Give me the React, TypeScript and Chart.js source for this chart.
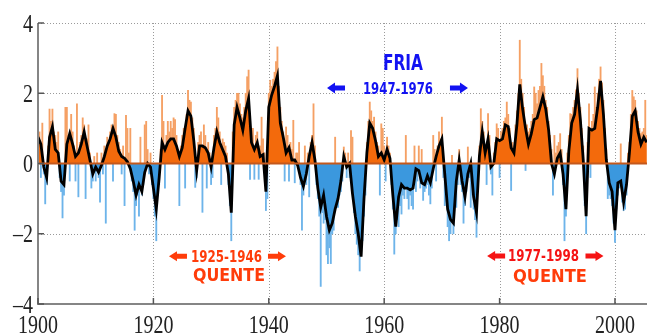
import { useEffect, useRef } from "react";
import { Chart, registerables } from "chart.js";

Chart.register(...registerables);

// ---- data ----
const START_YEAR = 1900;
const LINE_STEP = 0.5; // smoothed index, every half year
const SPIKE_STEP = 0.25; // monthly extremes, one per quarter

const smoothIndex = [
  0.75, 0.55, -0.1, -0.4, 0.75, 1.05, 0.4, 0.3, -0.5, -0.6,
  0.55, 0.85, 0.55, 0.2, 0.3, 0.55, 0.9, 0.5, 0.1, -0.3,
  -0.1, -0.25, -0.05, 0.2, 0.5, 0.7, 1.0, 0.75, 0.35, 0.2,
  0.15, 0.05, -0.15, -0.5, -0.9, -0.6, -0.8, -0.25, 0.0, -0.1,
  -0.7, -1.3, -0.4, 0.6, 0.4, 0.6, 0.7, 0.7, 0.5, 0.2,
  0.45, 1.0, 1.5, 1.35, 0.65, -0.2, 0.5, 0.5, 0.45, 0.3,
  -0.1, 0.45, 0.9, 0.6, 0.4, 0.2, -0.3, -1.4, 1.1, 1.6,
  1.3, 0.95, 1.5, 1.85, 0.6, 0.4, 0.6, 0.2, 0.25, -0.8,
  1.6, 1.95, 2.2, 2.5, 1.15, 0.75, 0.3, 0.45, 0.1, 0.1,
  -0.05, -0.4, -0.65, -0.3, 0.2, 0.6, 0.1, -0.7, -1.25, -0.9,
  -1.5, -1.9, -1.7, -1.3, -1.0, -0.5, 0.2, -0.1, 0.0, -0.85,
  -1.5, -2.0, -2.65, -1.0, 0.3, 1.15, 1.0, 0.65, 0.2, 0.3,
  0.1, 0.4, 0.15, -0.9, -1.8, -0.95, -0.6, -0.7, -0.7, -0.75,
  -0.7, -0.15, -0.2, -0.55, -0.6, -0.35, -0.55, -0.15, 0.2, 0.5,
  0.7, -0.3, -1.3, -1.6, -1.7, -0.5, 0.1, -0.5, -0.95, -0.3,
  0.0, -0.95, -1.4, 0.2, 0.9, 0.3, 0.7, -0.1, 0.0, 0.7,
  0.65, 0.7, 1.1, 1.05, 0.45, 0.3, 1.1, 2.25, 1.55, 1.0,
  0.55, 0.85, 1.25, 1.3, 1.6, 1.9, 1.55, 0.95, 0.0, -0.3,
  0.15, 0.3, -0.3, -1.3, 0.35, 1.15, 1.4, 2.1, 1.25, 0.1,
  -1.5, 1.0, 0.95, 1.0, 1.6, 2.35, 1.4, 0.1, -0.55, -0.8,
  -1.9, -0.55, -0.5, -1.1, -0.6, 0.3, 1.35, 1.5, 0.9, 0.55,
  0.75, 0.6,
];

const monthlySpikes = [
  1.3, 0.9, -0.4, 1.15, // 1900
  -0.3, -1.15, -0.6, 0.5,
  1.55, 1.2, 1.55, 0.9,
  0.8, 0.6, 0.9, -0.4,
  -0.8, -1.55, -0.9, 1.6,
  1.6, 0.8, -0.5, 1.4, // 1905
  0.9, 0.5, -0.5, 1.7,
  -0.95, 0.6, 0.8, 1.3,
  1.1, -1.0, 0.7, 1.1,
  0.3, -0.7, -0.5, 0.2,
  -0.5, 0.3, -0.4, -1.1, // 1910
  0.3, -0.3, 0.5, -1.7,
  0.75, 0.5, 0.9, 1.1,
  -0.5, 1.42, 1.4, 0.8,
  0.6, 0.4, -0.3, 0.5,
  -1.2, 1.37, 1.0, 0.3, // 1915
  1.0, -0.5, -0.8, -1.9,
  -1.2, -0.9, -1.5, 0.75,
  -0.9, -0.6, 1.1, 1.2,
  0.4, -0.3, 0.3, -0.6,
  -1.0, -1.5, -2.2, -0.9, // 1920
  -0.6, 0.4, 1.94, 1.2,
  -0.7, 0.8, 1.2, 0.9,
  1.2, 1.0, 1.3, 1.25,
  0.8, 0.4, -1.2, 0.5,
  0.8, 1.0, -0.7, 1.4, // 1925
  2.08, 1.8, 1.75, 1.3,
  1.0, -0.68, -0.4, 0.6,
  0.8, 0.9, -1.39, 1.1,
  0.8, -0.7, 0.6, 0.3,
  -0.6, -0.4, 0.8, 1.0, // 1930
  1.6, 1.3, 0.9, -0.6,
  0.7, 0.6, 0.5, 0.3,
  -0.6, -1.2, -2.2, 0.9,
  1.6, 1.8, 2.0, 2.0,
  1.7, 1.4, 1.3, 1.6, // 1935
  2.0, 2.47, 2.66, -0.45,
  1.0, 1.0, -0.45, 0.8,
  0.9, -0.45, 0.5, 1.32,
  0.7, 0.3, -1.34, -1.0,
  2.0, 2.37, 2.2, 2.4, // 1940
  2.6, 2.9, 3.32, 2.2,
  1.6, 1.2, 0.9, -0.5,
  1.04, 0.8, -0.5, 0.6,
  0.4, 1.23, -0.55, 0.3,
  0.3, 0.6, -0.6, -1.9, // 1945
  -0.9, 0.5, -0.6, 0.3,
  -0.95, 0.6, 0.8, 1.7,
  0.5, -0.6, -1.0, -1.5,
  -3.5, -1.4, -1.7, -1.6,
  -2.6, -2.85, -2.4, -2.85, // 1950
  -2.0, -1.9, 0.75, -1.25,
  -1.25, -0.9, -0.8, -0.5,
  0.47, 0.3, -0.4, 0.3,
  -0.4, 0.94, 0.75, -1.4,
  -2.0, -2.3, -2.6, -3.06, // 1955
  -2.6, -2.2, -1.5, -0.9,
  0.6, 1.2, 1.75, 1.5,
  1.2, 1.32, 0.9, 0.6,
  0.5, -0.9, 1.13, 1.0,
  0.5, -0.5, 0.75, 0.5, // 1960
  0.3, -0.6, -1.3, -2.58,
  -2.0, -1.6, -1.8, -1.2,
  -1.44, -0.9, -1.0, 0.8,
  -1.0, -1.3, -0.9, -1.2,
  -1.3, 0.5, -0.8, -0.5, // 1965
  0.5, -0.7, 0.4, -1.05,
  -0.8, -0.7, -0.6, -0.9,
  -1.15, -0.7, 0.8, 0.4,
  -0.5, 0.5, 0.9, 0.7,
  1.32, -0.4, -1.2, -1.1, // 1970
  -1.8, -2.2, -2.0, 0.23,
  -2.0, -1.2, -1.25, -0.6,
  0.4, -0.6, -0.8, -1.7,
  -1.2, -0.8, 0.47, -0.4,
  -1.25, -0.9, -1.3, -1.6, // 1975
  -2.1, -0.8, 0.5, 1.56,
  1.2, 0.9, 0.5, -0.6,
  1.42, 0.8, -0.3, -0.9,
  0.3, 0.6, 1.13, 1.0,
  -0.4, 0.9, 1.0, 1.2, // 1980
  1.3, 1.75, 1.4, 1.0,
  -0.77, 0.6, 0.5, 1.1,
  1.5, 2.0, 3.51, 2.4,
  2.0, 1.6, -0.2, 1.1,
  0.9, 1.0, 1.2, 1.4, // 1985
  2.18, 2.0, 1.7, 2.08,
  2.2, 2.85, 2.5, 2.2,
  1.8, 1.6, 1.2, 0.8,
  0.4, -0.9, 0.8, 0.3,
  0.5, 0.6, 0.85, 0.4, // 1990
  -0.6, -2.2, -1.5, 0.3,
  0.8, 1.42, 1.4, 1.6,
  1.8, 2.1, 2.7, 2.0,
  1.6, 1.0, 0.5, -1.2,
  -2.0, 0.6, 1.7, -0.4, // 1995
  1.2, 1.4, 2.18, 1.6,
  2.0, 2.4, 2.75, 2.3,
  1.8, 1.0, 0.4, -1.0,
  -0.9, -1.0, -1.2, -1.7,
  -2.25, -1.3, -0.9, -0.7, // 2000
  0.56, -1.1, -1.34, -1.3,
  -0.9, 0.3, 0.6, 1.4,
  2.08, 1.9, 1.8, 1.5,
  1.2, 1.0, 0.85, 0.9,
  1.0, 1.8, 0.8, // 2005
];

const xTicks = [1900, 1920, 1940, 1960, 1980, 2000];
const yTicks = [4, 2, 0, -2, -4];
const X_MIN = 1900;
const X_MAX = 2005.55;

// ---- annotation config (positions in data units) ----
const BLUE_TXT = "#1212f2";
const RED_TXT = "#ff3c0a";
const RED2_TXT = "#f51414";

const labels = [
  { text: "FRIA", x: 1963.26, y: 2.89, size: 21, width: 40, color: BLUE_TXT },
  { text: "1947-1976", x: 1962.39, y: 2.135, size: 15, width: 70, color: BLUE_TXT },
  { text: "1925-1946", x: 1932.67, y: -2.64, size: 15, width: 71, color: RED_TXT },
  { text: "QUENTE", x: 1933.1, y: -3.16, size: 18.5, width: 72, color: RED_TXT },
  { text: "1977-1998", x: 1987.6, y: -2.63, size: 15, width: 71, color: RED2_TXT },
  { text: "QUENTE", x: 1988.73, y: -3.17, size: 18.5, width: 74, color: RED_TXT },
];

const arrows = [
  { x: 1951.65, y: 2.15, dir: -1, h: 11, color: BLUE_TXT },
  { x: 1972.96, y: 2.15, dir: 1, h: 11, color: BLUE_TXT },
  { x: 1924.26, y: -2.64, dir: -1, h: 10, color: RED_TXT },
  { x: 1941.42, y: -2.64, dir: 1, h: 10, color: RED_TXT },
  { x: 1979.4, y: -2.63, dir: -1, h: 10, color: RED2_TXT },
  { x: 1996.45, y: -2.63, dir: 1, h: 10, color: RED2_TXT },
];

const ORANGE = "#f36a0c";
const BLUE = "#3b98de";
const ORANGE_LIGHT = "#f5a064";
const BLUE_LIGHT = "#6db4ea";

const decor = {
  id: "decor",
  beforeDatasetsDraw(chart: any) {
    const { ctx, chartArea, scales } = chart;
    const xs = scales.x, ys = scales.y;
    ctx.save();
    ctx.strokeStyle = "#9a9a9a";
    ctx.lineWidth = 1;
    ctx.setLineDash([1, 2]);
    for (const v of yTicks) {
      if (v === 0 || v === -4) continue;
      const y = Math.round(ys.getPixelForValue(v)) + 0.5;
      ctx.beginPath();
      ctx.moveTo(chartArea.left, y);
      ctx.lineTo(chartArea.right, y);
      ctx.stroke();
    }
    for (const v of xTicks) {
      if (v === 1900) continue;
      const x = Math.round(xs.getPixelForValue(v)) + 0.5;
      ctx.beginPath();
      ctx.moveTo(x, chartArea.top);
      ctx.lineTo(x, chartArea.bottom);
      ctx.stroke();
    }
    ctx.restore();
  },
  afterDatasetsDraw(chart: any) {
    const { ctx, chartArea, scales } = chart;
    const xs = scales.x, ys = scales.y;
    ctx.save();
    // zero line
    const y0 = ys.getPixelForValue(0);
    ctx.strokeStyle = "#c4581c";
    ctx.lineWidth = 2;
    ctx.beginPath();
    ctx.moveTo(chartArea.left, y0);
    ctx.lineTo(chartArea.right, y0);
    ctx.stroke();

    // axes
    ctx.strokeStyle = "#858585";
    ctx.lineWidth = 2;
    ctx.beginPath();
    ctx.moveTo(chartArea.left, chartArea.top);
    ctx.lineTo(chartArea.left, chartArea.bottom);
    ctx.lineTo(chartArea.right, chartArea.bottom);
    ctx.stroke();

    // inward ticks
    ctx.strokeStyle = "#555";
    ctx.lineWidth = 1.5;
    for (const v of yTicks) {
      const y = ys.getPixelForValue(v);
      ctx.beginPath();
      ctx.moveTo(chartArea.left, y);
      ctx.lineTo(chartArea.left + 6, y);
      ctx.stroke();
    }
    for (const v of xTicks) {
      const x = xs.getPixelForValue(v);
      ctx.beginPath();
      ctx.moveTo(x, chartArea.bottom);
      ctx.lineTo(x, chartArea.bottom - 6);
      ctx.stroke();
    }

    // tick labels (serif, slightly stretched vertically)
    ctx.fillStyle = "#222";
    ctx.font = '20px "Liberation Serif", "DejaVu Serif", serif';
    ctx.textBaseline = "alphabetic";
    const stretch = 1.3;
    ctx.textAlign = "right";
    for (const v of yTicks) {
      const y = ys.getPixelForValue(v);
      const t = v < 0 ? "\u2013" + Math.abs(v) : String(v);
      ctx.save();
      ctx.translate(chartArea.left - 5, y);
      ctx.scale(1, stretch);
      ctx.fillText(t, 0, 6.6);
      ctx.restore();
    }
    ctx.textAlign = "center";
    for (const v of xTicks) {
      const x = xs.getPixelForValue(v);
      ctx.save();
      ctx.translate(x, 333);
      ctx.scale(1, stretch);
      ctx.fillText(String(v), 0, 0);
      ctx.restore();
    }

    // annotation texts
    for (const l of labels) {
      const px = xs.getPixelForValue(l.x);
      const py = ys.getPixelForValue(l.y);
      ctx.font = `bold ${l.size}px "Liberation Sans Narrow", "DejaVu Sans Condensed", "Liberation Sans", sans-serif`;
      const w = ctx.measureText(l.text).width;
      ctx.save();
      ctx.translate(px, py);
      ctx.scale(l.width / w, 1);
      ctx.fillStyle = l.color;
      ctx.textAlign = "center";
      ctx.textBaseline = "alphabetic";
      ctx.fillText(l.text, 0, l.size * 0.36);
      ctx.restore();
    }

    // block arrows
    for (const a of arrows) {
      const cx = xs.getPixelForValue(a.x);
      const cy = ys.getPixelForValue(a.y);
      const half = 9, head = 8, hh = a.h / 2, sh = 2.5;
      const d = a.dir;
      ctx.fillStyle = a.color;
      ctx.beginPath();
      ctx.moveTo(cx + d * half, cy);
      ctx.lineTo(cx + d * (half - head), cy - hh);
      ctx.lineTo(cx + d * (half - head), cy - sh);
      ctx.lineTo(cx - d * half, cy - sh);
      ctx.lineTo(cx - d * half, cy + sh);
      ctx.lineTo(cx + d * (half - head), cy + sh);
      ctx.lineTo(cx + d * (half - head), cy + hh);
      ctx.closePath();
      ctx.fill();
    }
    ctx.restore();
  },
};

export default function App() {
  const ref = useRef<HTMLCanvasElement | null>(null);

  useEffect(() => {
    if (!ref.current) return;
    const lineData = smoothIndex.map((v, i) => ({ x: START_YEAR + i * LINE_STEP, y: v }));
    const spikeData = monthlySpikes.map((v, i) => ({ x: START_YEAR + i * SPIKE_STEP, y: v }));

    const chart = new Chart(ref.current, {
      type: "bar",
      data: {
        datasets: [
          {
            type: "line",
            data: lineData,
            borderColor: "#000",
            borderWidth: 2.8,
            pointRadius: 0,
            tension: 0,
            fill: { target: { value: 0 }, above: ORANGE, below: BLUE },
            order: 1,
          } as any,
          {
            type: "bar",
            data: spikeData,
            backgroundColor: spikeData.map((d) => (d.y >= 0 ? ORANGE_LIGHT : BLUE_LIGHT)),
            barThickness: 1.2,
            order: 2,
          } as any,
        ],
      },
      options: {
        animation: false,
        responsive: false,
        layout: { padding: { left: 38, top: 23, right: 0, bottom: 30 } },
        plugins: { legend: { display: false }, tooltip: { enabled: false } },
        scales: {
          x: { type: "linear", min: X_MIN, max: X_MAX, offset: false, display: false },
          y: { type: "linear", min: -4, max: 4, display: false },
        },
      },
      plugins: [decor],
    });
    return () => chart.destroy();
  }, []);

  return (
    <canvas
      ref={ref}
      width={647}
      height={334}
      style={{ position: "absolute", left: 0, top: 0, display: "block" }}
    />
  );
}
